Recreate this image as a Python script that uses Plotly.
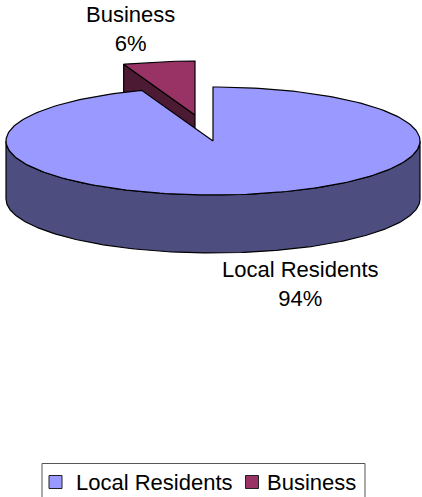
import numpy as np
import plotly.graph_objects as go

categories = ["Local Residents", "Business"]
values = [94.4, 5.6]
percent_labels = ["94%", "6%"]
top_colors = ["#9999FF", "#993366"]
side_colors = ["#4D4D80", "#4D1A33"]

W, H = 422, 497
CX, CY, RX, RY, DEPTH = 213, 141, 207, 54, 58
EXPLODE = {"Business": (-18, -26), "Local Residents": (0, 0)}
FONT = "Liberation Sans, Arial, sans-serif"
FS = 22

total = sum(values)
resid_sweep = values[0] / total * 360.0


def rim(a0, a1, dx=0, dy=0, depth=0, n=240):
    t = np.radians(np.linspace(a0, a1, n))
    return CX + dx + RX * np.sin(t), CY + dy + depth - RY * np.cos(t)


def poly(x, y, color, width=1.2):
    return go.Scatter(x=list(x) + [x[0]], y=list(y) + [y[0]], mode="lines", fill="toself",
                      fillcolor=color, line=dict(color="black", width=width),
                      hoverinfo="skip", showlegend=False)


fig = go.Figure()

# Business slice (exploded, drawn behind)
dx, dy = EXPLODE["Business"]
a0, a1 = resid_sweep, 360.0
ax, ay = CX + dx, CY + dy
rx0, ry0 = rim(a0, a0, dx, dy, n=1)
fig.add_trace(poly([ax, rx0[0], rx0[0], ax], [ay, ry0[0], ry0[0] + DEPTH, ay + DEPTH], side_colors[1]))
fx, fy = rim(a0, a1, dx, dy)
fig.add_trace(poly([ax, *fx], [ay, *fy], top_colors[1]))

# Local Residents slice
sx, sy = rim(90, 270, depth=0)
bx, by = rim(90, 270, depth=DEPTH)
fig.add_trace(poly([*sx, *bx[::-1]], [*sy, *by[::-1]], side_colors[0]))
tx, ty = rim(0, resid_sweep)
fig.add_trace(poly([CX, *tx], [CY, *ty], top_colors[0]))

# Data labels
fig.add_annotation(x=130, y=29, text=f"{categories[1]}<br>{percent_labels[1]}", showarrow=False,
                   font=dict(family=FONT, size=FS, color="black"), xref="x", yref="y")
fig.add_annotation(x=300, y=284, text=f"{categories[0]}<br>{percent_labels[0]}", showarrow=False,
                   font=dict(family=FONT, size=FS, color="black"), xref="x", yref="y")

# Legend box (runs off the bottom of the picture, as in the reference)
fig.add_shape(type="rect", x0=42, x1=365, y0=463.5, y1=H + 10, xref="x", yref="y",
              line=dict(color="#555555", width=1), fillcolor="white", layer="below")
legend_swatch_x = [55.5, 252]
legend_text_x = [76, 267]
for name, color, mx, lx in zip(categories, top_colors, legend_swatch_x, legend_text_x):
    fig.add_trace(go.Scatter(x=[mx], y=[482], mode="markers", hoverinfo="skip", showlegend=False,
                             marker=dict(symbol="square", size=13, color=color,
                                         line=dict(color="#222222", width=1))))
    fig.add_annotation(x=lx, y=482, text=name, showarrow=False, xanchor="left", xshift=-2,
                       font=dict(family=FONT, size=FS, color="black"), xref="x", yref="y")

fig.update_layout(
    width=W, height=H, margin=dict(l=0, r=0, t=0, b=0, autoexpand=False), autosize=False,
    showlegend=False, paper_bgcolor="white", plot_bgcolor="white",
    xaxis=dict(range=[0, W], visible=False, fixedrange=True),
    yaxis=dict(range=[H, 0], visible=False, fixedrange=True),
)
fig.write_html("out.html", config={"displayModeBar": False},
               post_script="document.body.style.margin='0';document.documentElement.style.overflow='hidden';")
